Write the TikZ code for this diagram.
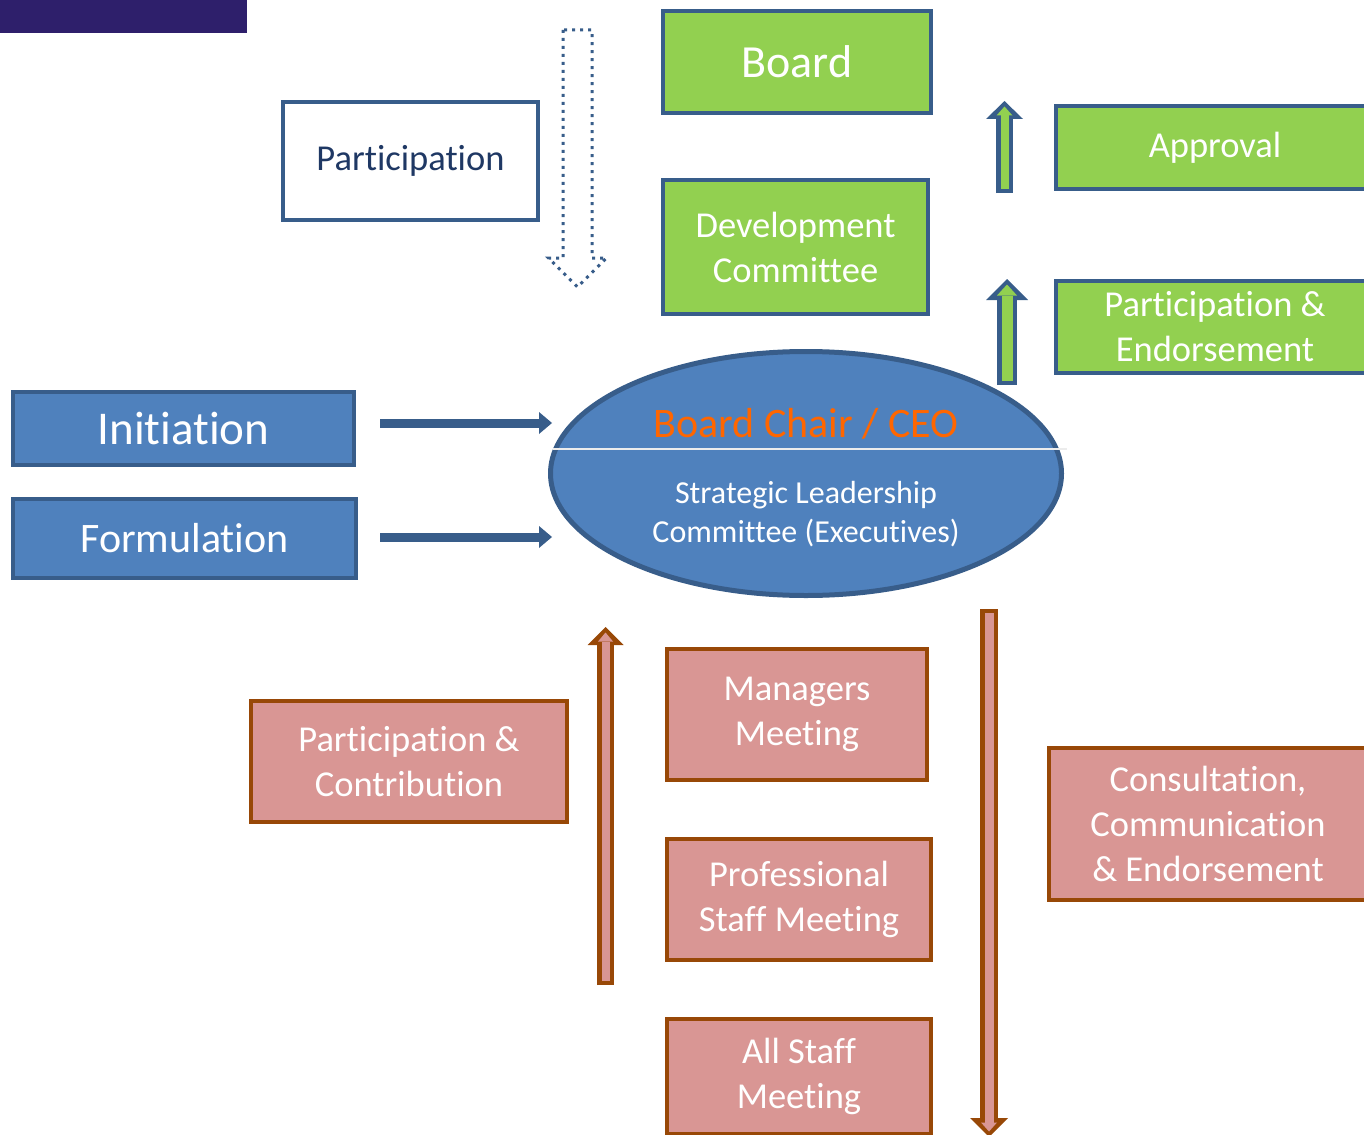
\documentclass[tikz,border=0pt]{standalone}
\usepackage{fontspec}
\setmainfont{Carlito}[Ligatures=NoCommon]
\usetikzlibrary{shapes.geometric,arrows.meta}

\definecolor{bluefill}{HTML}{4F81BD}
\definecolor{blueline}{HTML}{385D8A}
\definecolor{greenfill}{HTML}{92D050}
\definecolor{redfill}{HTML}{D99694}
\definecolor{redline}{HTML}{984807}
\definecolor{navytext}{HTML}{1F3864}
\definecolor{chairorange}{HTML}{FF6600}
\definecolor{topbar}{HTML}{2E1F6B}

\begin{document}
\begin{tikzpicture}[x=1pt, y=-1pt,
  box/.style={rectangle, line width=4pt, inner sep=0pt, align=center, text=white},
  bluebox/.style={box, draw=blueline, fill=bluefill},
  greenbox/.style={box, draw=blueline, fill=greenfill},
  redbox/.style={box, draw=redline, fill=redfill},
  txt/.style={font=\fontsize{36.5}{45}\selectfont}]
% Frame
\path[use as bounding box, clip] (0,0) rectangle (1364,1134);
\fill[topbar] (0,0) rectangle (247,33);

% Nodes
\node[box, draw=blueline, fill=white, text=navytext, minimum width=255pt, minimum height=118pt, txt] (partic) at (410.5,161) {Participation};
\node[greenbox, minimum width=268pt, minimum height=102pt, font=\fontsize{46}{55}\selectfont] (board) at (797,62) {Board};
\node[greenbox, minimum width=265pt, minimum height=134pt, txt] (devcom) at (795.5,247) {Development\\Committee};
\node[greenbox, minimum width=318pt, minimum height=83pt, txt] (approval) at (1215,147.5) {Approval};
\node[greenbox, minimum width=318pt, minimum height=92pt, txt] (partend) at (1215,327) {Participation \&\\Endorsement};

\node[bluebox, minimum width=341pt, minimum height=73pt, font=\fontsize{47}{55}\selectfont] (initiation) at (183.5,428.5) {Initiation};
\node[bluebox, minimum width=343pt, minimum height=79pt, font=\fontsize{42}{50}\selectfont] (formulation) at (184.5,538.5) {Formulation};

\node[ellipse, draw=blueline, fill=bluefill, line width=5pt, minimum width=511pt, minimum height=244pt, inner sep=0pt] (slc) at (806,473.5) {};
\draw[white!85!gray, line width=1.5pt] (553,449) -- (1067,449);
\node[text=chairorange, font=\fontsize{42}{50}\selectfont] (chair) at (806,424) {Board Chair / CEO};
\node[text=white, align=center, font=\fontsize{32}{39}\selectfont] (slctext) at (806,514) {Strategic Leadership\\Committee (Executives)};

\node[redbox, minimum width=316pt, minimum height=121pt, txt] (pcontrib) at (409,761.5) {Participation \&\\Contribution};
\node[redbox, minimum width=260pt, minimum height=131pt, txt] (managers) at (797,714.5) {Managers\\Meeting};
\node[redbox, minimum width=264pt, minimum height=121pt, txt] (profstaff) at (799,899.5) {Professional\\Staff Meeting};
\node[redbox, minimum width=264pt, minimum height=115pt, txt] (allstaff) at (799,1076.5) {All Staff\\Meeting};
\node[redbox, minimum width=318pt, minimum height=152pt, txt] (consult) at (1208,824) {Consultation,\\Communication\\\& Endorsement};

% Arrow ends
\coordinate (dtop) at (577.5,30);
\coordinate (ia) at (380,423);
\coordinate (ib) at (552,423);
\coordinate (fa) at (380,537);
\coordinate (fb) at (552,537);
\coordinate (g1b) at (1004.5,193);
\coordinate (g1t) at (1004.5,101);
\coordinate (g2b) at (1007,385);
\coordinate (g2t) at (1007,279);
\coordinate (rub) at (605.5,985);
\coordinate (rut) at (605.5,627);
\coordinate (rdt) at (989,609);
\coordinate (rdb) at (989,1137);

% Edges
\draw[blueline, line width=3pt, dash pattern=on 3pt off 5pt] (dtop) ++(-14.5,0) -- ++(0,228) -- ++(-14.5,0) -- ++(29,29) -- ++(29,-29) -- ++(-14.5,0) -- ++(0,-228) -- cycle;

\draw[blueline, line width=9pt, -{Triangle[width=22pt,length=13pt,line width=0pt]}] (ia) -- (ib);
\draw[blueline, line width=9pt, -{Triangle[width=22pt,length=13pt,line width=0pt]}] (fa) -- (fb);

\draw[blueline, line width=17pt, -{Triangle[width=37pt,length=18pt,line width=0pt]}] (g1b) -- (g1t);
\draw[greenfill, line width=8pt, shorten <=4pt, shorten >=5.5pt, -{Triangle[width=16pt,length=9pt,line width=0pt]}] (g1b) -- (g1t);
\draw[blueline, line width=20pt, -{Triangle[width=42pt,length=21pt,line width=0pt]}] (g2b) -- (g2t);
\draw[greenfill, line width=11pt, shorten <=4pt, shorten >=5.5pt, -{Triangle[width=20pt,length=11pt,line width=0pt]}] (g2b) -- (g2t);

\draw[redline, line width=17pt, -{Triangle[width=36pt,length=18pt,line width=0pt]}] (rub) -- (rut);
\draw[redfill, line width=8pt, shorten <=4pt, shorten >=5.5pt, -{Triangle[width=15pt,length=9pt,line width=0pt]}] (rub) -- (rut);
\draw[redline, line width=18pt, -{Triangle[width=38pt,length=19pt,line width=0pt]}] (rdt) -- (rdb);
\draw[redfill, line width=9pt, shorten <=4pt, shorten >=5.5pt, -{Triangle[width=16pt,length=9pt,line width=0pt]}] (rdt) -- (rdb);
\end{tikzpicture}
\end{document}
